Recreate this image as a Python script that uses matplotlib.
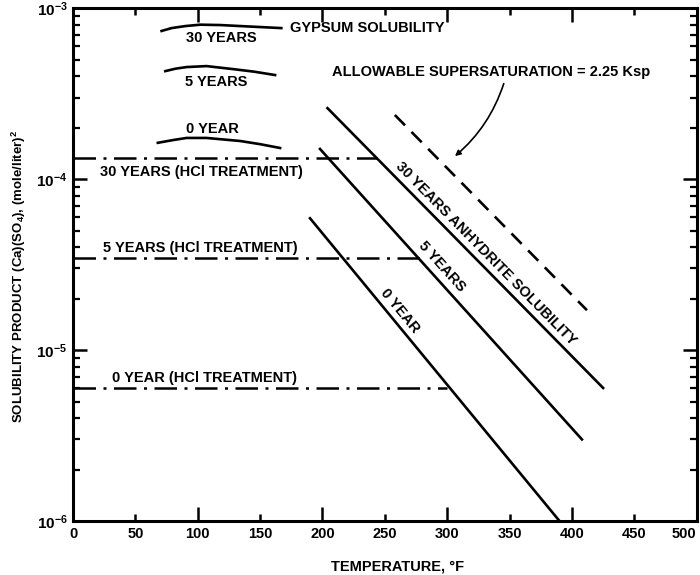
import numpy as np
import matplotlib
matplotlib.use("Agg")
import matplotlib.pyplot as plt
from matplotlib.ticker import FixedLocator, LogLocator, NullFormatter

plt.rcParams['font.family'] = ['Liberation Sans', 'DejaVu Sans']
plt.rcParams['mathtext.fontset'] = 'custom'
plt.rcParams['mathtext.rm'] = 'Liberation Sans:bold'
plt.rcParams['mathtext.it'] = 'Liberation Sans:bold'
plt.rcParams['mathtext.bf'] = 'Liberation Sans:bold'

# Gypsum solubility curves (temperature °F, solubility product)
gyp_T_30 = [71, 79, 90, 102, 118, 142, 167]
gyp_30 = [7.35e-4, 7.64e-4, 7.85e-4, 8.0e-4, 7.96e-4, 7.8e-4, 7.64e-4]
gyp_T_5 = [74, 82, 91, 107, 128, 145, 162]
gyp_5 = [4.28e-4, 4.42e-4, 4.52e-4, 4.58e-4, 4.4e-4, 4.25e-4, 4.06e-4]
gyp_T_0 = [68, 80, 91, 107, 134, 150, 166]
gyp_0 = [1.63e-4, 1.69e-4, 1.74e-4, 1.74e-4, 1.67e-4, 1.6e-4, 1.52e-4]

# Anhydrite solubility lines
anh_T_0 = [190, 390]
anh_0 = [5.9e-5, 1.0e-6]
anh_T_5 = [198, 408]
anh_5 = [1.5e-4, 3.0e-6]
anh_T_30 = [204, 425]
anh_30 = [2.6e-4, 6.0e-6]

# Allowable supersaturation (2.25 Ksp)
sup_T = [258, 412]
sup = [2.37e-4, 1.71e-5]

# HCl treatment levels
hcl_T_30 = [0, 244]
hcl_30 = [1.33e-4, 1.33e-4]
hcl_T_5 = [0, 280]
hcl_5 = [3.45e-5, 3.45e-5]
hcl_T_0 = [0, 300]
hcl_0 = [6.0e-6, 6.0e-6]

x_ticks = [0, 50, 100, 150, 200, 250, 300, 350, 400, 450, 500]
y_ticks = [1e-6, 1e-5, 1e-4, 1e-3]
y_tick_labels = [r'$10^{-6}$', r'$10^{-5}$', r'$10^{-4}$', r'$10^{-3}$']

fig = plt.figure(figsize=(7, 5.75), dpi=100)
ax = fig.add_axes([0.1043, 0.0939, 0.891, 0.892])
ax.set_yscale('log')
ax.set_xlim(0, 500)
ax.set_ylim(1e-6, 1e-3)

lw = 1.9
k = 'black'
ax.plot(gyp_T_30, gyp_30, color=k, lw=lw)
ax.plot(gyp_T_5, gyp_5, color=k, lw=lw)
ax.plot(gyp_T_0, gyp_0, color=k, lw=lw)

ax.plot(anh_T_0, anh_0, color=k, lw=lw)
ax.plot(anh_T_5, anh_5, color=k, lw=lw)
ax.plot(anh_T_30, anh_30, color=k, lw=lw)
ax.plot(sup_T, sup, color=k, lw=lw, ls=(0, (5.5, 3.5)))

dashdot = (0, (9, 3, 1.2, 3))
ax.plot(hcl_T_30, hcl_30, color=k, lw=1.8, ls=dashdot)
ax.plot(hcl_T_5, hcl_5, color=k, lw=1.8, ls=dashdot)
ax.plot(hcl_T_0, hcl_0, color=k, lw=1.8, ls=dashdot)

fs = 10.5
tkw = dict(fontsize=fs, fontweight='bold', color=k)
ax.text(118.6, 6.7e-4, '30 YEARS', ha='center', va='center', **tkw)
ax.text(114.6, 3.69e-4, '5 YEARS', ha='center', va='center', **tkw)
ax.text(111.4, 1.96e-4, '0 YEAR', ha='center', va='center', **tkw)
ax.text(174, 7.63e-4, 'GYPSUM SOLUBILITY', ha='left', va='center', **tkw)
ax.text(208, 4.23e-4, 'ALLOWABLE SUPERSATURATION = 2.25 Ksp',
        ha='left', va='center', **tkw)
ax.annotate('', xy=(304.5, 1.33e-4), xytext=(346, 3.75e-4),
            arrowprops=dict(arrowstyle='-|>', color=k, lw=1.2,
                            mutation_scale=8,
                            connectionstyle='arc3,rad=-0.15'))

ax.text(21.6, 1.1e-4, '30 YEARS (HCl TREATMENT)', ha='left', va='center', **tkw)
ax.text(24, 3.94e-5, '5 YEARS (HCl TREATMENT)', ha='left', va='center', **tkw)
ax.text(31, 6.86e-6, '0 YEAR (HCl TREATMENT)', ha='left', va='center', **tkw)

fig.canvas.draw()


def line_angle(xs, ys):
    p = ax.transData.transform(np.column_stack([xs, ys]))
    d = p[1] - p[0]
    return np.degrees(np.arctan2(d[1], d[0]))


ax.text(331, 3.69e-5, '30 YEARS ANHYDRITE SOLUBILITY', ha='center', va='center',
        rotation=line_angle(anh_T_30, anh_30), rotation_mode='anchor', **tkw)
ax.text(296, 3.1e-5, '5 YEARS', ha='center', va='center',
        rotation=line_angle(anh_T_5, anh_5), rotation_mode='anchor', **tkw)
ax.text(262, 1.69e-5, '0 YEAR', ha='center', va='center',
        rotation=line_angle(anh_T_0, anh_0), rotation_mode='anchor', **tkw)

# axes styling
for s in ax.spines.values():
    s.set_linewidth(2.2)
ax.xaxis.set_major_locator(FixedLocator(x_ticks))
ax.set_xticklabels([str(v) for v in x_ticks], fontsize=fs, fontweight='bold')
ax.get_xticklabels()[-1].set_horizontalalignment('right')
ax.yaxis.set_major_locator(FixedLocator(y_ticks))
ax.set_yticklabels(y_tick_labels, fontsize=11)
ax.yaxis.set_minor_locator(LogLocator(base=10, subs=np.arange(2, 10)))
ax.yaxis.set_minor_formatter(NullFormatter())
ax.tick_params(axis='both', which='major', direction='in', length=10, width=1.8,
               top=True, right=True, pad=4)
ax.tick_params(axis='y', which='minor', direction='in', length=5, width=1.6,
               left=True, right=True)

# shorter ticks at the odd 50-degree marks
for i, t in enumerate(ax.xaxis.get_major_ticks()):
    if x_ticks[i] % 100:
        t.tick1line.set_markersize(5)
        t.tick2line.set_markersize(5)

ax.set_xlabel('TEMPERATURE, °F', fontsize=fs, fontweight='bold')
ax.xaxis.set_label_coords(0.52, -0.075)
ax.set_ylabel(r'SOLUBILITY PRODUCT (Ca)(SO$_4$), (mole/liter)$^2$',
              fontsize=9.5, fontweight='bold')
ax.yaxis.set_label_coords(-0.072, 0.476)

fig.savefig('out.png', dpi=100)
